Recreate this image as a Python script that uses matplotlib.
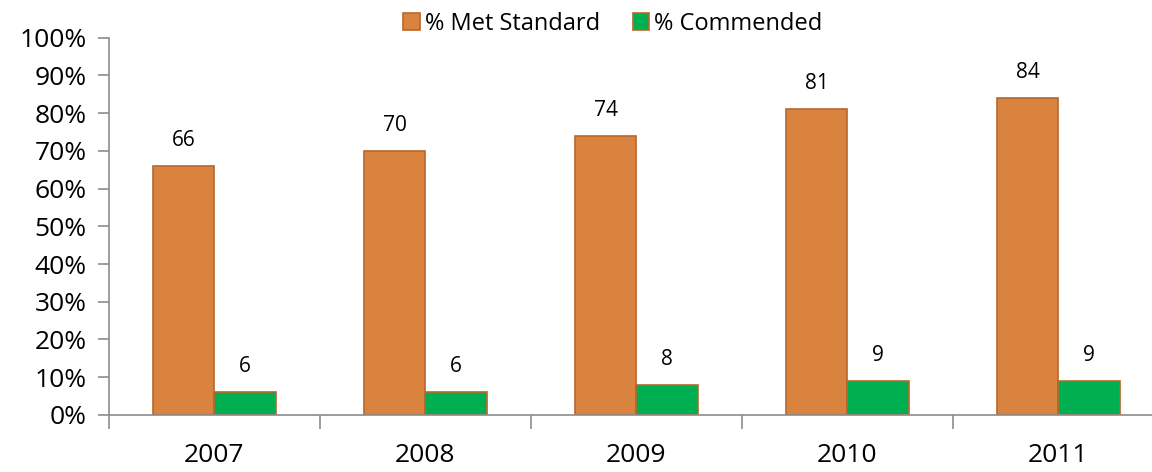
import numpy as np
import matplotlib.pyplot as plt
from matplotlib.ticker import FixedLocator, NullFormatter

plt.rcParams['font.family'] = ['Open Sans', 'DejaVu Sans']

years = ['2007', '2008', '2009', '2010', '2011']
met_standard = [66, 70, 74, 81, 84]
commended = [6, 6, 8, 9, 9]

orange = '#D9833F'
orange_edge = '#B8672C'
green = '#00B050'
axis_grey = '#8C8C8C'

fig = plt.figure(figsize=(11.52, 4.72), dpi=100)
# the chart runs slightly past the right edge of the image in the original
ax = fig.add_axes([0.0946, 0.121, 0.9158, 0.799])

x = np.arange(len(years))
w = 0.29
b1 = ax.bar(x - w/2, met_standard, w, color=orange, edgecolor=orange_edge, linewidth=1.2, label='% Met Standard')
b2 = ax.bar(x + w/2, commended, w, color=green, edgecolor=orange_edge, linewidth=1.2, label='% Commended')

for xi, v in zip(x, met_standard):
    ax.text(xi - w/2, v + 4, str(v), ha='center', va='bottom', fontsize=15)
for xi, v in zip(x, commended):
    ax.text(xi + w/2, v + 4, str(v), ha='center', va='bottom', fontsize=15)

ax.set_xlim(-0.5, len(years) - 0.5)
ax.set_ylim(0, 100)
ax.set_yticks(np.arange(0, 101, 10))
ax.set_yticklabels(['%d%%' % v for v in range(0, 101, 10)], fontsize=19)

ax.set_xticks(x)
ax.set_xticklabels(years, fontsize=19)
ax.tick_params(axis='x', which='major', length=0, pad=20)
ax.xaxis.set_minor_locator(FixedLocator(np.arange(-0.5, len(years), 1)))
ax.xaxis.set_minor_formatter(NullFormatter())
ax.tick_params(axis='x', which='minor', length=10, color=axis_grey, width=1.2)
ax.tick_params(axis='y', length=8, color=axis_grey, width=1.2, pad=8)

for s in ['top', 'right']:
    ax.spines[s].set_visible(False)
for s in ['left', 'bottom']:
    ax.spines[s].set_color(axis_grey)
    ax.spines[s].set_linewidth(1.2)

fig.legend(handles=[b1, b2], loc='upper center', bbox_to_anchor=(0.532, 1.02), ncol=2,
           frameon=False, fontsize=17, handlelength=0.7, handleheight=0.7,
           handletextpad=0.2, columnspacing=1.4)

plt.savefig('out.png')
